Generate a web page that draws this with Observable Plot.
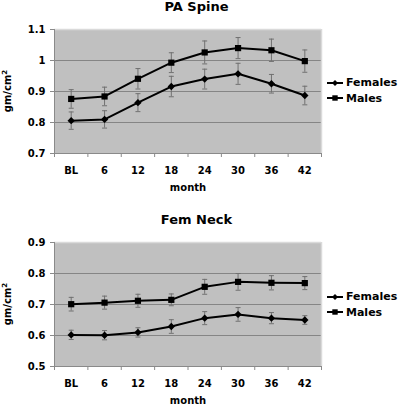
<!DOCTYPE html>
<html>
<head>
<meta charset="utf-8">
<script src="https://cdn.jsdelivr.net/npm/d3@7"></script>
<script src="https://cdn.jsdelivr.net/npm/@observablehq/plot@0.6"></script>
<style>
  html, body { margin: 0; padding: 0; background: #fff; }
  #root { position: relative; width: 400px; height: 404px; overflow: hidden; background: #fff;
          font-family: "DejaVu Sans", Verdana, sans-serif; font-weight: bold; color: #000; }
  .panel { position: absolute; left: 0; width: 400px; }
  .title { position: absolute; left: 0; width: 393px; text-align: center; font-size: 13px; }
  .ylab { position: absolute; font-size: 10px; transform: translate(-50%, -50%) rotate(-90deg); white-space: nowrap; }
  .ylab sup { font-size: 7px; }
  .legend { position: absolute; left: 327px; font-size: 11px; }
  .legend div { display: flex; align-items: center; height: 15.5px; white-space: nowrap; }
</style>
</head>
<body>
<div id="root"></div>
<script>
// ---- data ----
const months = ["BL", "6", "12", "18", "24", "30", "36", "42"];
const seriesNames = ["Females", "Males"];

const spineFemales    = [0.806, 0.810, 0.864, 0.916, 0.940, 0.957, 0.925, 0.887];
const spineFemalesErr = [0.028, 0.028, 0.029, 0.033, 0.032, 0.034, 0.030, 0.030];
const spineMales      = [0.876, 0.884, 0.941, 0.993, 1.026, 1.040, 1.033, 0.998];
const spineMalesErr   = [0.030, 0.030, 0.033, 0.032, 0.037, 0.034, 0.036, 0.036];

const neckFemales     = [0.602, 0.601, 0.610, 0.629, 0.656, 0.668, 0.656, 0.650];
const neckFemalesErr  = [0.015, 0.015, 0.015, 0.022, 0.021, 0.022, 0.018, 0.014];
const neckMales       = [0.701, 0.706, 0.712, 0.715, 0.757, 0.773, 0.770, 0.769];
const neckMalesErr    = [0.022, 0.021, 0.021, 0.019, 0.024, 0.027, 0.023, 0.021];

const spineTicks = [0.7, 0.8, 0.9, 1.0, 1.1];
const neckTicks  = [0.5, 0.6, 0.7, 0.8, 0.9];

// ---- symbols ----
const capSymbol = { draw(ctx) { ctx.moveTo(-2.5, 0); ctx.lineTo(2.5, 0); } };
const diamondSym = (h) => ({ draw(ctx) { ctx.moveTo(0, -h); ctx.lineTo(h, 0); ctx.lineTo(0, h); ctx.lineTo(-h, 0); ctx.closePath(); } });
const squareSym = (h) => ({ draw(ctx) { ctx.moveTo(-h, -h); ctx.lineTo(h, -h); ctx.lineTo(h, h); ctx.lineTo(-h, h); ctx.closePath(); } });
const plotSymbols = { Females: diamondSym(3.7), Males: squareSym(3.1) };
const legendSymbols = { Females: diamondSym(3.0), Males: squareSym(2.7) };

function rowsFor(values, errs, name) {
  return values.map((v, i) => ({ series: name, month: months[i], i: i + 0.5, v, lo: v - errs[i], hi: v + errs[i] }));
}

function makeChart(cfg) {
  const rows = [
    ...rowsFor(cfg.females, cfg.femErr, "Females"),
    ...rowsFor(cfg.males, cfg.maleErr, "Males")
  ];
  const ticks = cfg.ticks;
  const yMin = ticks[0], yMax = ticks[ticks.length - 1];
  const fmt = d => String(+d.toFixed(1));
  return Plot.plot({
    width: 400,
    height: 200,
    marginTop: 29,
    marginBottom: 47,
    marginLeft: 54,
    marginRight: 79,
    style: { fontFamily: "DejaVu Sans, Verdana, sans-serif", fontWeight: "bold", fontSize: "10px", color: "#000", background: "transparent" },
    x: { type: "linear", domain: [0, months.length] },
    y: { domain: [yMin, yMax] },
    symbol: { domain: seriesNames, range: seriesNames.map(s => plotSymbols[s]) },
    marks: [
      Plot.frame({ fill: "#c0c0c0" }),
      Plot.gridY(ticks.slice(1, -1), { stroke: "#858585", strokeOpacity: 1, strokeWidth: 1 }),
      Plot.ruleY([yMax], { stroke: "#dadada", strokeWidth: 1.5 }),
      Plot.ruleX([months.length], { stroke: "#dadada", strokeWidth: 1.5 }),
      Plot.ruleY([yMin], { stroke: "#8a8a8a" }),
      Plot.ruleX([0], { stroke: "#8a8a8a" }),
      Plot.axisY(ticks, { tickSize: 4, tickPadding: 5, tickFormat: fmt, stroke: "#8a8a8a", fill: "#000", fontSize: 10, label: null }),
      Plot.axisX(d3.range(0, months.length + 1), { tickSize: 4, tickFormat: () => "", stroke: "#8a8a8a", label: null }),
      Plot.axisX(d3.range(months.length).map(i => i + 0.5), {
        tickSize: 0, tickPadding: 13.5, tickFormat: d => months[Math.floor(d)], fill: "#000", fontSize: 10,
        label: "month", labelAnchor: "center", labelArrow: "none", labelOffset: 37
      }),
      Plot.ruleX(rows, { x: "i", y1: "lo", y2: "hi", stroke: "#707070", strokeWidth: 1 }),
      Plot.dot(rows, { x: "i", y: "lo", symbol: capSymbol, stroke: "#707070", strokeWidth: 1 }),
      Plot.dot(rows, { x: "i", y: "hi", symbol: capSymbol, stroke: "#707070", strokeWidth: 1 }),
      Plot.line(rows, { x: "i", y: "v", z: "series", stroke: "#000", strokeWidth: 2 }),
      Plot.dot(rows, { x: "i", y: "v", symbol: "series", fill: "#000", r: 4 })
    ]
  });
}

function legendSvg(name) {
  const svg = d3.create("svg").attr("width", 17).attr("height", 12).style("margin-right", "2px");
  svg.append("line").attr("x1", 0).attr("x2", 16).attr("y1", 6).attr("y2", 6).attr("stroke", "#000").attr("stroke-width", 2);
  const path = d3.path();
  legendSymbols[name].draw(path);
  svg.append("path").attr("transform", "translate(8,6)").attr("d", path.toString());
  return svg.node();
}

function panel(root, top, cfg) {
  const p = document.createElement("div");
  p.className = "panel";
  p.style.top = top + "px";
  p.style.height = "200px";
  p.appendChild(makeChart(cfg));
  const svg = p.querySelector("svg");
  svg.style.position = "absolute"; svg.style.left = "0"; svg.style.top = "0";

  const t = document.createElement("div");
  t.className = "title"; t.style.top = "-1px"; t.textContent = cfg.title;
  p.appendChild(t);

  const yl = document.createElement("div");
  yl.className = "ylab"; yl.style.left = "7px"; yl.style.top = "91px";
  yl.innerHTML = "gm/cm<sup>2</sup>";
  p.appendChild(yl);

  const lg = document.createElement("div");
  lg.className = "legend"; lg.style.top = (cfg.legendTop) + "px";
  seriesNames.forEach(name => {
    const row = document.createElement("div");
    row.appendChild(legendSvg(name));
    const s = document.createElement("span"); s.textContent = name;
    row.appendChild(s);
    lg.appendChild(row);
  });
  p.appendChild(lg);
  root.appendChild(p);
}

const root = document.getElementById("root");
panel(root, 0, { title: "PA Spine", females: spineFemales, femErr: spineFemalesErr, males: spineMales, maleErr: spineMalesErr, ticks: spineTicks, legendTop: 75 });
panel(root, 213, { title: "Fem Neck", females: neckFemales, femErr: neckFemalesErr, males: neckMales, maleErr: neckMalesErr, ticks: neckTicks, legendTop: 76 });
</script>
</body>
</html>
